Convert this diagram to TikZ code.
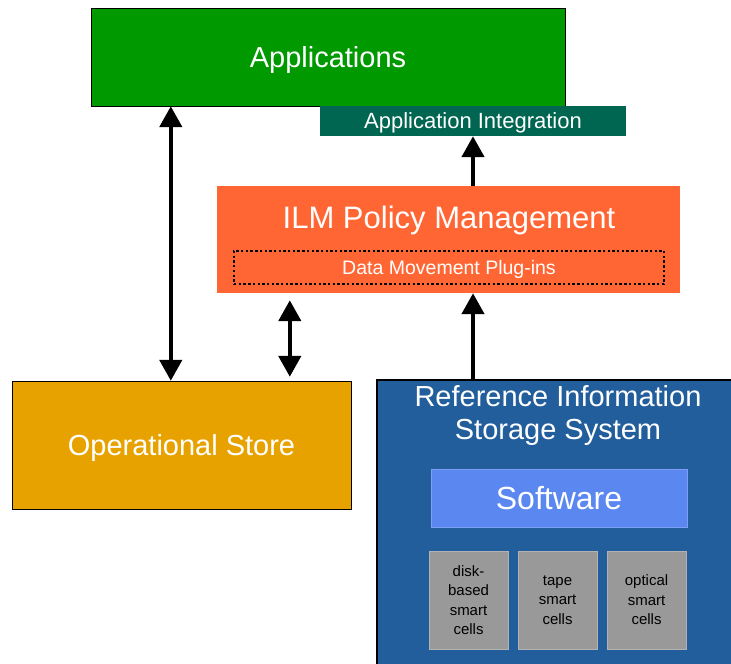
\documentclass[tikz,border=0pt]{standalone}
\usepackage{fontspec}
\setmainfont{Liberation Sans}
\usetikzlibrary{arrows.meta}

\definecolor{appgreen}{RGB}{0,153,0}
\definecolor{intteal}{RGB}{0,102,82}
\definecolor{ilmorange}{RGB}{255,102,51}
\definecolor{storegold}{RGB}{232,162,0}
\definecolor{rissblue}{RGB}{34,94,156}
\definecolor{softblue}{RGB}{91,135,240}
\definecolor{cellgray}{RGB}{153,153,153}

\begin{document}
\begin{tikzpicture}[
	x=1pt,
	y=-1pt,
	>={Triangle[length=21pt,width=22pt]},
	block/.style={
		rectangle,
		align=center,
		inner sep=2pt,
		text depth=0pt,
		text=white,
		font=\fontsize{29}{33}\selectfont
	},
	cell/.style={
		rectangle,
		align=center,
		inner sep=2pt,
		text depth=0pt,
		fill=cellgray,
		draw=black!30,
		text=black,
		font=\fontsize{15}{19.5}\selectfont,
		minimum width=79pt,
		minimum height=98pt
	},
	link/.style={
		line width=4.5pt
	},
]
\useasboundingbox (0,0) rectangle (731,664);

% Applications
\node[block, draw=black, fill=appgreen, minimum width=474pt, minimum height=98pt]
(apps) at (328,57) {Applications};
\node[block, fill=intteal, minimum width=306pt, minimum height=30pt, font=\fontsize{22}{26}\selectfont]
(appint) at (473,121) {Application Integration};

% Policy management
\node[block, fill=ilmorange, minimum width=463pt, minimum height=107pt]
(ilm) at (448.5,239.5) {};
\node[block, anchor=base, font=\fontsize{31}{35}\selectfont] (ilmtitle) at (449,228) {ILM Policy Management};
\node[block, draw=black, line width=2.4pt, dash pattern=on 2.4pt off 2.3pt, minimum width=430pt, minimum height=33pt, font=\fontsize{19.5}{23}\selectfont]
(plugins) at (449,267.5) {Data Movement Plug-ins};

% Stores
\node[block, draw=black, fill=storegold, minimum width=339pt, minimum height=128pt]
(os) at (181.5,445) {Operational Store};
\node[block, draw=black, line width=1.5pt, fill=rissblue, minimum width=363pt, minimum height=295pt]
(riss) at (558.5,527.5) {};
\node[block] (risstitle) at (558,412) {Reference Information\\Storage System};
\node[block, draw=softblue!80!white, fill=softblue, minimum width=256pt, minimum height=58pt, font=\fontsize{32}{36}\selectfont]
(soft) at (559,498) {Software};

% Smart cells
\node[cell] (disk) at (468.5,600) {disk-\\based\\smart\\cells};
\node[cell] (tape) at (557.5,600) {tape\\smart\\cells};
\node[cell] (optical) at (646.5,600) {optical\\smart\\cells};

% Arrows
\draw[link,<->] ([xshift=80pt]apps.south west) -- ([xshift=80pt]apps.south west |- os.north);
\draw[link,<->,shorten <=7pt,shorten >=4pt] ([xshift=73pt]ilm.south west) -- ([xshift=73pt]ilm.south west |- os.north);
\draw[link,->] (riss.north -| appint.south) -- (ilm.south -| appint.south);
\draw[link,->] (ilm.north -| appint.south) -- (appint.south);

\end{tikzpicture}
\end{document}
